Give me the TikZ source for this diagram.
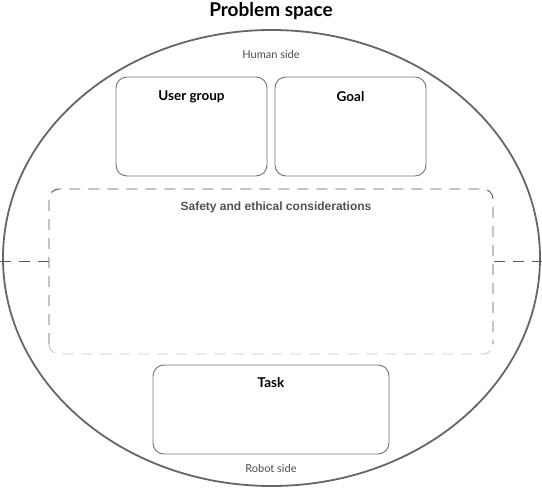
\documentclass[tikz,border=0pt]{standalone}
\usepackage{fontspec}
\setmainfont{Lato}
\newfontfamily\arialfont{Liberation Sans}
\begin{document}
\begin{tikzpicture}[x=1pt,y=-1pt,
  card/.style={draw=black!55,line width=0.9pt,rounded corners=11pt,fill=white},
  cardtitle/.style={font=\bfseries\fontsize{13.5}{16}\selectfont,text=black},
  sidelabel/.style={font=\fontsize{11}{13}\selectfont,text=black!70},
  dashpart/.style={dash pattern=on 11pt off 8pt,line width=0.9pt}]
\useasboundingbox (0,0) rectangle (542,490);
% outer problem space
\draw[black!60,line width=1.8pt] (271.5,258) ellipse [x radius=268.5,y radius=228];
\node[font=\bfseries\fontsize{19}{22}\selectfont] (title) at (271,11) {Problem space};
% split between human and robot sides
\coordinate (splitL) at (0,261);
\coordinate (splitR) at (542,261);
\draw[dashpart,black!65] (splitL) -- (splitR);
% safety area
\fill[white,rounded corners=10pt] (49,189) rectangle (493,354);
\draw[dashpart,black!65,rounded corners=10pt] (49,344) -- (49,189) -- (493,189) -- (493,344);
\draw[dashpart,black!22,rounded corners=10pt] (49,344) -- (49,354) -- (493,354) -- (493,344);
\node[font=\arialfont\bfseries\fontsize{12}{14}\selectfont,text=black!68] (safety) at (276,207) {Safety and ethical considerations};
% cards
\draw[card] (116,77) rectangle (267,176);
\node[cardtitle] (user) at (191.5,97) {User group};
\draw[card] (275,77) rectangle (426,176);
\node[cardtitle] (goal) at (350.5,97) {Goal};
\draw[card] (153,365) rectangle (389,454);
\node[cardtitle] (task) at (271,383) {Task};
% side labels
\node[sidelabel] (human) at (271,54) {Human side};
\node[sidelabel] (robot) at (271,468) {Robot side};
\end{tikzpicture}
\end{document}
